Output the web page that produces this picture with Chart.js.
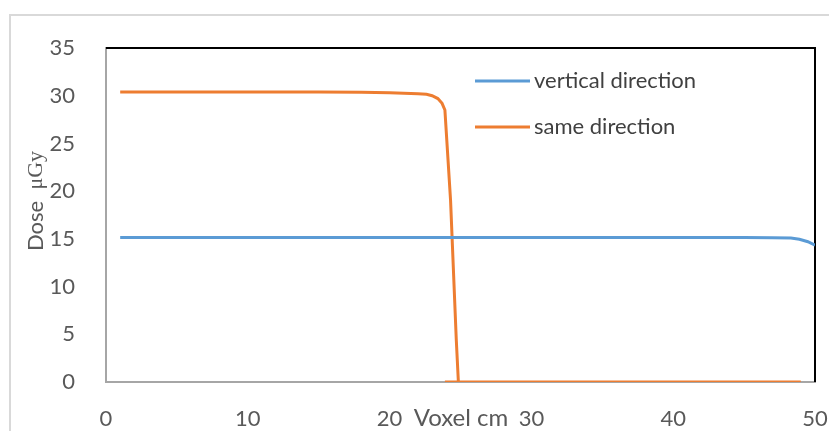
<!DOCTYPE html>
<html>
<head>
<meta charset="utf-8">
<script src="https://cdn.jsdelivr.net/npm/chart.js@4/dist/chart.umd.min.js"></script>
<style>
  html, body { margin: 0; padding: 0; background: #fff; }
  #wrap { width: 829px; height: 431px; position: relative; }
</style>
</head>
<body>
<div id="wrap"><canvas id="doseChart" width="829" height="431"></canvas></div>
<script>
// values
const sameX = [1, 5, 10, 15, 18, 20, 21, 22, 22.6, 23, 23.4, 23.7, 23.9, 24.3, 24.7, 24.85, 23.9, 30, 35, 40, 45, 49];
const sameDose = [30.4, 30.4, 30.4, 30.38, 30.35, 30.3, 30.25, 30.2, 30.15, 30.0, 29.7, 29.2, 28.5, 19, 4.5, 0, 0, 0, 0, 0, 0, 0];
const vertX = [1, 10, 20, 30, 40, 45, 47, 48.3, 48.9, 49.5, 50];
const vertDose = [15.15, 15.15, 15.15, 15.15, 15.15, 15.14, 15.12, 15.08, 14.95, 14.7, 14.35];
const seriesNames = ["vertical direction", "same direction"];
const xTicks = [0, 10, 20, 30, 40, 50];
const yTicks = [0, 5, 10, 15, 20, 25, 30, 35];

const tickColor = "#595959";
const fontFamily = "Lato, 'Open Sans', sans-serif";

function toPoints(xs, ys) {
    return xs.map((x, i) => ({ x: x, y: ys[i] }));
}

// outer frame, plot border, legend and axis titles
const decorPlugin = {
    id: "decor",
    beforeDraw(chart) {
        const c = chart.ctx;
        c.save();
        c.strokeStyle = "#d9d9d9";
        c.lineWidth = 2;
        c.strokeRect(10, 15, 900, 500);
        c.restore();
    },
    beforeDatasetsDraw(chart) {
        const c = chart.ctx;
        const a = chart.chartArea;
        c.save();
        c.strokeStyle = "#000";
        c.lineWidth = 2;
        c.beginPath();
        c.moveTo(a.left, a.top);
        c.lineTo(a.right, a.top);
        c.lineTo(a.right, a.bottom);
        c.stroke();
        c.restore();
    },
    afterDraw(chart) {
        const c = chart.ctx;
        const a = chart.chartArea;
        c.save();
        // legend inside the plot
        chart.data.datasets.forEach((ds, i) => {
            const y = a.top + 33 + i * 46;
            const x0 = a.left + 369;
            c.strokeStyle = ds.borderColor;
            c.lineWidth = 3;
            c.beginPath();
            c.moveTo(x0, y);
            c.lineTo(x0 + 55, y);
            c.stroke();
            c.fillStyle = "#404040";
            c.font = "22px " + fontFamily;
            c.textBaseline = "middle";
            c.textAlign = "left";
            c.fillText(ds.label, x0 + 59, y);
        });
        // x title
        c.fillStyle = tickColor;
        c.font = "24px " + fontFamily;
        c.textAlign = "center";
        c.textBaseline = "middle";
        c.fillText("Voxel cm", 461, a.bottom + 36);
        // y title
        c.translate(36, 201);
        c.rotate(-Math.PI / 2);
        c.font = "22px " + fontFamily;
        const w1 = c.measureText("Dose  ").width;
        c.font = "22px 'Liberation Serif', serif";
        const w2 = c.measureText("μGy").width;
        const start = -(w1 + w2) / 2;
        c.textAlign = "left";
        c.font = "22px " + fontFamily;
        c.fillText("Dose  ", start, 0);
        c.font = "22px 'Liberation Serif', serif";
        c.fillText("μGy", start + w1, 0);
        c.restore();
    }
};

const ctx = document.getElementById("doseChart").getContext("2d");
const doseChart = new Chart(ctx, {
    type: "scatter",
    data: {
        datasets: [{
            label: seriesNames[0],
            data: toPoints(vertX, vertDose),
            showLine: true,
            borderColor: "#5b9bd5",
            borderWidth: 3,
            pointRadius: 0,
            tension: 0,
        }, {
            label: seriesNames[1],
            data: toPoints(sameX, sameDose),
            showLine: true,
            borderColor: "#ed7d31",
            borderWidth: 3,
            pointRadius: 0,
            tension: 0,
        }],
    },
    options: {
        responsive: false,
        animation: false,
        layout: { padding: { top: 48, right: 14, left: 0, bottom: 0 } },
        plugins: {
            legend: { display: false },
            tooltip: { enabled: false },
        },
        scales: {
            x: {
                type: "linear",
                min: 0,
                max: 50,
                afterFit: (s) => { s.height = 49; s.paddingLeft = 0; s.paddingRight = 0; },
                afterBuildTicks: (s) => { s.ticks = xTicks.map(v => ({ value: v })); },
                grid: { display: false },
                border: { display: true, color: "#a6a6a6", width: 2 },
                ticks: { color: tickColor, font: { size: 22, family: fontFamily }, padding: 16, maxRotation: 0 },
            },
            y: {
                min: 0,
                max: 35,
                afterFit: (s) => { s.width = 106; s.paddingTop = 0; s.paddingBottom = 0; },
                afterBuildTicks: (s) => { s.ticks = yTicks.map(v => ({ value: v })); },
                grid: { display: false },
                border: { display: true, color: "#a6a6a6", width: 2 },
                ticks: { color: tickColor, font: { size: 22, family: fontFamily }, padding: 23 },
            },
        },
    },
    plugins: [decorPlugin],
});
</script>
</body>
</html>
